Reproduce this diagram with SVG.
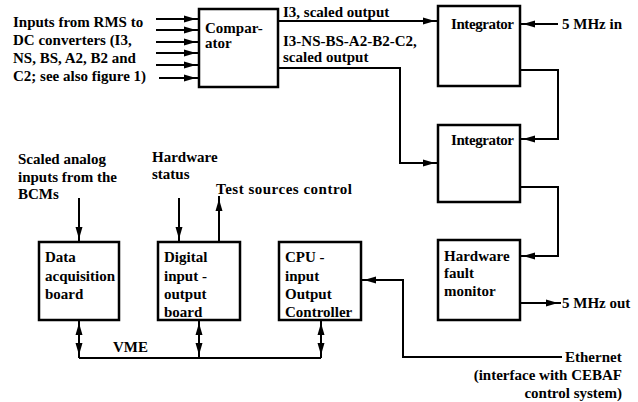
<svg xmlns="http://www.w3.org/2000/svg" width="638" height="402" viewBox="0 0 638 402">
<style>
text{font-family:"Liberation Serif","Times New Roman",serif;font-weight:bold;font-size:15px;fill:#000}
.box{fill:#fff;stroke:#000;stroke-width:2.5}
.ln{fill:none;stroke:#000;stroke-width:2}
</style>
<defs>
<marker id="ah" markerUnits="userSpaceOnUse" markerWidth="14" markerHeight="8" refX="15" refY="3.5" orient="auto" overflow="visible"><path d="M0,0 L12,3.5 L0,7 z" fill="#000"/></marker>
<marker id="ahs" markerUnits="userSpaceOnUse" markerWidth="14" markerHeight="8" refX="15" refY="3.5" orient="auto-start-reverse" overflow="visible"><path d="M0,0 L12,3.5 L0,7 z" fill="#000"/></marker>
</defs>
<rect width="638" height="402" fill="#fff"/>
<g id="inputs-label">
<text x="13" y="27">Inputs from RMS to</text>
<text x="13" y="45">DC converters (I3,</text>
<text x="13" y="63">NS, BS, A2, B2 and</text>
<text x="13" y="81">C2; see also figure 1)</text>
</g>
<g id="comparator"><rect class="box" x="199" y="9" width="79" height="78"/><text x="205" y="33">Compar-</text><text x="205" y="48">ator</text></g>
<g id="integrator1"><rect class="box" x="438" y="6" width="82" height="80"/><text x="451" y="29" textLength="63">Integrator</text></g>
<g id="integrator2"><rect class="box" x="438" y="125" width="82" height="77"/><text x="451" y="145" textLength="63">Integrator</text></g>
<g id="fault-monitor"><rect class="box" x="438" y="240" width="82" height="80"/><text x="444" y="261">Hardware</text><text x="444" y="278">fault</text><text x="444" y="296">monitor</text></g>
<g id="data-acq"><rect class="box" x="39" y="242" width="80" height="78"/><text x="45" y="262">Data</text><text x="45" y="281">acquisition</text><text x="45" y="299">board</text></g>
<g id="digital-io"><rect class="box" x="158" y="242" width="82" height="78"/><text x="164" y="262">Digital</text><text x="164" y="281">input -</text><text x="164" y="299">output</text><text x="164" y="317">board</text></g>
<g id="cpu"><rect class="box" x="279" y="242" width="82" height="78"/><text x="285" y="262">CPU -</text><text x="285" y="281">input</text><text x="285" y="299">Output</text><text x="285" y="317">Controller</text></g>
<g id="labels">
<text x="283" y="17">I3, scaled output</text>
<text x="283" y="46">I3-NS-BS-A2-B2-C2,</text>
<text x="283" y="62">scaled output</text>
<text x="562" y="29">5 MHz in</text>
<text x="562" y="308">5 MHz out</text>
<text x="18" y="164">Scaled analog</text>
<text x="18" y="182">inputs from the</text>
<text x="18" y="199">BCMs</text>
<text x="152" y="162">Hardware</text>
<text x="152" y="179">status</text>
<text x="216" y="194" textLength="136">Test sources control</text>
<text x="113" y="352">VME</text>
<text x="565" y="362">Ethernet</text>
<text x="622" y="380" text-anchor="end">(interface with CEBAF</text>
<text x="622" y="398" text-anchor="end">control system)</text>
</g>
<g id="connectors">
<path class="ln" d="M156,19 H199" marker-end="url(#ah)"/>
<path class="ln" d="M156,30 H199" marker-end="url(#ah)"/>
<path class="ln" d="M156,42 H199" marker-end="url(#ah)"/>
<path class="ln" d="M156,53 H199" marker-end="url(#ah)"/>
<path class="ln" d="M156,65 H199" marker-end="url(#ah)"/>
<path class="ln" d="M159,78 H199" marker-end="url(#ah)"/>
<path class="ln" d="M278,21 H438" marker-end="url(#ah)"/>
<path class="ln" d="M278,68 H400 V163 H438" marker-end="url(#ah)"/>
<path class="ln" d="M558,24 H520" marker-end="url(#ah)"/>
<path class="ln" d="M520,70 H558 V139 H520" marker-end="url(#ah)"/>
<path class="ln" d="M520,187 H558 V256 H520" marker-end="url(#ah)"/>
<path class="ln" d="M520,303 H561" marker-end="url(#ah)"/>
<path class="ln" d="M79,198 V242" marker-end="url(#ah)"/>
<path class="ln" d="M179,198 V242" marker-end="url(#ah)"/>
<path class="ln" d="M219,242 V196" marker-end="url(#ah)"/>
<path class="ln" d="M79,358 H321"/>
<path class="ln" d="M79,358 V320" marker-end="url(#ahs)" marker-start="url(#ahs)"/>
<path class="ln" d="M199,358 V320" marker-end="url(#ahs)" marker-start="url(#ahs)"/>
<path class="ln" d="M321,358 V320" marker-end="url(#ahs)" marker-start="url(#ahs)"/>
<path class="ln" d="M562,357 H403 V280 H361" marker-end="url(#ah)"/>
</g>
</svg>
